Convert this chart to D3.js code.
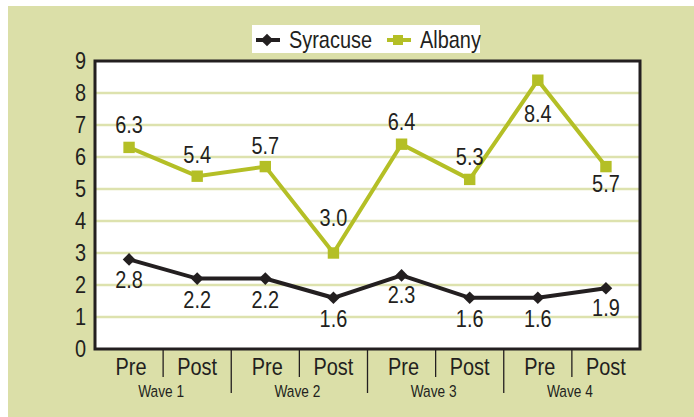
<!DOCTYPE html>
<html>
  <head>
    <style>
      body { margin: 0; background: #fff; }
      text { font-family: "Liberation Sans", Arial, sans-serif; fill: #231f20; }
    </style>
  </head>

  <body>

    <svg class="surface" width="694" height="417"></svg>

    <script src="https://cdn.jsdelivr.net/npm/d3@7/dist/d3.min.js" charset="utf-8"></script>
    <script>

      const phases = ['Pre', 'Post', 'Pre', 'Post', 'Pre', 'Post', 'Pre', 'Post']
      const waves = ['Wave 1', 'Wave 2', 'Wave 3', 'Wave 4']
      const syracuse = [2.8, 2.2, 2.2, 1.6, 2.3, 1.6, 1.6, 1.9]
      const albany = [6.3, 5.4, 5.7, 3.0, 6.4, 5.3, 8.4, 5.7]
      const yTicks = [0, 1, 2, 3, 4, 5, 6, 7, 8, 9]

      // label offsets from the point (baseline), picked to match the picture
      const syracuseDy = [29, 29, 29, 29, 28, 29, 29, 28]
      const albanyDy = [-14, -13, -13, -27, -14, -14, 42, 25]

      const black = '#231f20'
      const olive = '#b4bf26'
      const grid = '#dde2ae'
      const narrow = 0.83  // the original face is a condensed grotesque

      const svg = d3.select('.surface')

      // narrow text: scale the glyphs horizontally around the anchor point
      function label(parent, px, py, str, size, anchor) {
        return parent.append('g')
          .attr('transform', `translate(${px},${py}) scale(${narrow},1)`)
          .append('text')
          .attr('text-anchor', anchor || 'middle')
          .style('font-size', size + 'px')
          .text(str)
      }

      svg.append('rect')
        .attr('x', 8).attr('y', 6)
        .attr('width', 686).attr('height', 411)
        .attr('fill', '#dbdfa8')

      const x = d3.scaleBand().domain(d3.range(phases.length)).range([95, 640])
      const y = d3.scaleLinear().domain([0, 9]).range([349, 61])
      const cx = i => x(i) + x.bandwidth() / 2

      // plot area
      svg.append('rect')
        .attr('x', 95).attr('y', 61)
        .attr('width', 545).attr('height', 288)
        .attr('fill', '#fff')

      svg.selectAll('.grid')
        .data(yTicks.filter(d => d > 0 && d < 9))
        .enter().append('line')
        .attr('x1', 95).attr('x2', 640)
        .attr('y1', d => y(d)).attr('y2', d => y(d))
        .attr('stroke', grid).attr('stroke-width', 2.5)

      svg.append('rect')
        .attr('x', 95).attr('y', 61)
        .attr('width', 545).attr('height', 288)
        .attr('fill', 'none')
        .attr('stroke', black).attr('stroke-width', 3)

      // y axis labels
      yTicks.forEach(d => label(svg, 86, y(d) + 8, d, 24, 'end'))

      // category separators
      svg.selectAll('.sep')
        .data(d3.range(1, phases.length))
        .enter().append('line')
        .attr('x1', i => x(i)).attr('x2', i => x(i))
        .attr('y1', 350).attr('y2', i => i % 2 ? 377 : 393)
        .attr('stroke', black).attr('stroke-width', 1.3)

      phases.forEach((d, i) => label(svg, cx(i) + (i % 2 ? 0 : 2), 375, d, 24))
      waves.forEach((d, i) => label(svg, x(i * 2) + x.bandwidth() - 2, 397, d, 16.5))

      const line = d3.line().x((d, i) => cx(i)).y(d => y(d))

      function series(data, color, size, rotate, dys) {
        svg.append('path')
          .datum(data)
          .attr('d', line)
          .attr('fill', 'none')
          .attr('stroke', color)
          .attr('stroke-width', 4)
          .attr('stroke-linejoin', 'miter')

        svg.append('g').selectAll('path')
          .data(data)
          .enter().append('path')
          .attr('d', d3.symbol().type(d3.symbolSquare).size(size))
          .attr('transform', (d, i) => `translate(${cx(i)},${y(d)})` + (rotate ? ' rotate(45)' : ''))
          .attr('fill', color)

        const g = svg.append('g')
        data.forEach((d, i) => label(g, cx(i), y(d) + dys[i], d.toFixed(1), 24))
      }

      series(albany, olive, 130, false, albanyDy)
      series(syracuse, black, 80, true, syracuseDy)

      // legend
      const legend = svg.append('g')
      legend.append('rect')
        .attr('x', 252).attr('y', 25)
        .attr('width', 228).attr('height', 28)
        .attr('fill', '#fff')

      const items = [
        { name: 'Syracuse', color: black, x: 256, rotate: true, size: 80 },
        { name: 'Albany', color: olive, x: 387, rotate: false, size: 100 }
      ]
      items.forEach(it => {
        legend.append('line')
          .attr('x1', it.x).attr('x2', it.x + 24)
          .attr('y1', 40).attr('y2', 40)
          .attr('stroke', it.color).attr('stroke-width', 4)
        legend.append('path')
          .attr('d', d3.symbol().type(d3.symbolSquare).size(it.size))
          .attr('transform', `translate(${it.x + 11},40)` + (it.rotate ? ' rotate(45)' : ''))
          .attr('fill', it.color)
        label(legend, it.x + 33, 48, it.name, 24, 'start')
      })

    </script>
  </body>

</html>
